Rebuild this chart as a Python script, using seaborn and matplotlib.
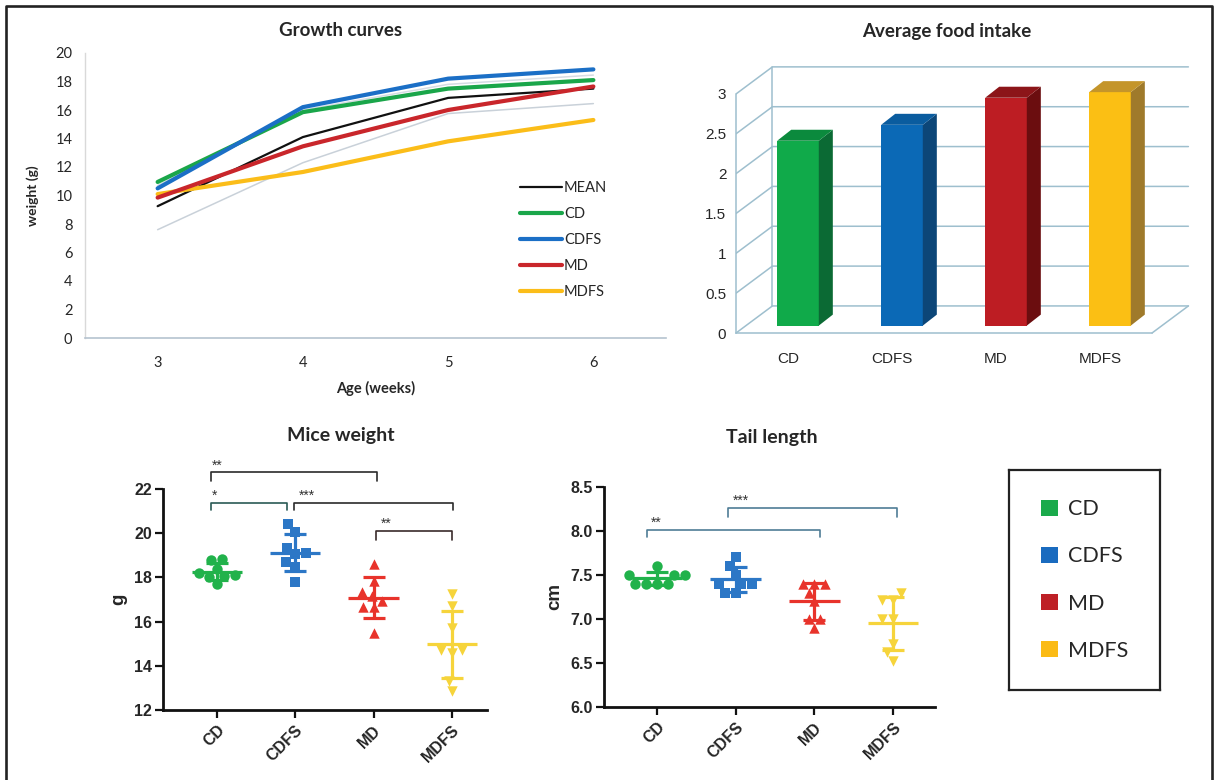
import numpy as np
import pandas as pd
import matplotlib
matplotlib.use("Agg")
import matplotlib.pyplot as plt
from matplotlib.patches import Polygon, Patch
from matplotlib.lines import Line2D
import seaborn as sns

# ---------------- data ----------------
weeks = [3, 4, 5, 6]
growth_mean = [9.25, 14.1, 16.85, 17.5]
growth_cd = [10.95, 15.85, 17.5, 18.1]
growth_cdfs = [10.5, 16.2, 18.2, 18.85]
growth_md = [9.85, 13.45, 16.0, 17.65]
growth_mdfs = [10.1, 11.65, 13.8, 15.3]
growth_low = [7.6, 12.3, 15.75, 16.45]
growth_high = [10.7, 16.0, 17.8, 18.45]

groups = ["CD", "CDFS", "MD", "MDFS"]
food_intake = [2.32, 2.52, 2.86, 2.93]

weight_cd = [18.85, 18.8, 18.4, 18.2, 18.1, 18.05, 18.0, 17.7]
weight_cdfs = [20.4, 20.05, 19.35, 19.1, 19.05, 18.7, 18.45, 17.8]
weight_md = [18.6, 17.85, 17.35, 17.15, 16.95, 16.65, 16.65, 15.5]
weight_mdfs = [17.25, 16.7, 15.7, 14.7, 14.7, 14.6, 13.3, 12.85]

tail_cd = [7.6, 7.5, 7.5, 7.5, 7.4, 7.4, 7.4, 7.4]
tail_cdfs = [7.7, 7.6, 7.5, 7.4, 7.4, 7.4, 7.3, 7.3]
tail_md = [7.4, 7.4, 7.4, 7.3, 7.2, 7.0, 7.0, 6.9]
tail_mdfs = [7.3, 7.22, 7.22, 7.0, 7.0, 6.72, 6.62, 6.52]

# ---------------- style ----------------
sns.set_theme(style="white")
plt.rcParams["font.family"] = ["Liberation Sans", "DejaVu Sans"]
EXCEL_FONT = ["Lato", "DejaVu Sans"]

W, H = 1218, 780
fig = plt.figure(figsize=(W / 100, H / 100), dpi=100)


def rect(left, top, right, bottom):
    return [left / W, 1 - bottom / H, (right - left) / W, (bottom - top) / H]


# outer frame
fig.add_artist(Line2D([6 / W, 6 / W, 1212 / W, 1212 / W], [-0.05, 1 - 6 / H, 1 - 6 / H, -0.05],
                      transform=fig.transFigure, color="#222222", lw=1.9))

line_colors = {"MEAN": "#111111", "CD": "#1aa64a", "CDFS": "#1b6fc6",
               "MD": "#c9262b", "MDFS": "#fbbd19"}
bar_front = ["#10aa4a", "#0b69b6", "#bd1d23", "#fbbf14"]
bar_side = ["#0b6a34", "#0c4678", "#6b0d0f", "#9f7a2b"]
bar_top = ["#0b8a3d", "#0a5c9f", "#8c1519", "#c4952a"]
prism_colors = ["#21b24b", "#2c77c6", "#e8332b", "#f6d43b"]
prism_markers = ["o", "s", "^", "v"]
legend_colors = ["#1aaa4b", "#1a6bbf", "#be2026", "#fbbb15"]

# ---------------- growth curves ----------------
ax_g = fig.add_axes(rect(85, 53, 666, 338))
series = [("low", growth_low, "#c9d1d9", 1.1),
          ("high", growth_high, "#d5dce3", 1.1),
          ("MEAN", growth_mean, line_colors["MEAN"], 1.6),
          ("MDFS", growth_mdfs, line_colors["MDFS"], 3.0),
          ("MD", growth_md, line_colors["MD"], 3.0),
          ("CD", growth_cd, line_colors["CD"], 3.0),
          ("CDFS", growth_cdfs, line_colors["CDFS"], 3.0)]
for name, vals, col, lw in series:
    df = pd.DataFrame({"week": weeks, "weight": vals})
    sns.lineplot(data=df, x="week", y="weight", color=col, linewidth=lw, ax=ax_g)
ax_g.set_xlim(2.5, 6.5)
ax_g.set_ylim(0, 20)
ax_g.set_xticks(weeks)
ax_g.set_xticklabels([str(w) for w in weeks], family=EXCEL_FONT, fontsize=10.5)
ax_g.set_yticks(range(0, 21, 2))
ax_g.set_yticklabels([str(v) for v in range(0, 21, 2)], family=EXCEL_FONT, fontsize=10.5)
ax_g.tick_params(axis="x", length=0, pad=13)
ax_g.tick_params(axis="y", length=0, pad=9)
for s in ["top", "right"]:
    ax_g.spines[s].set_visible(False)
ax_g.spines["left"].set_color("#d9d9d9")
ax_g.spines["bottom"].set_color("#b5c3cf")
ax_g.spines["left"].set_linewidth(1)
ax_g.spines["bottom"].set_linewidth(1.2)
ax_g.set_xlabel("Age (weeks)", family=EXCEL_FONT, fontweight="bold", fontsize=10.5, labelpad=8)
ax_g.set_ylabel("weight (g)", family=EXCEL_FONT, fontweight="bold", fontsize=10, labelpad=12)
ax_g.set_facecolor("none")
handles = [Line2D([], [], color=line_colors[k], lw=(1.6 if k == "MEAN" else 3.0))
           for k in ["MEAN", "CD", "CDFS", "MD", "MDFS"]]
ax_g.legend(handles, ["MEAN", "CD", "CDFS", "MD", "MDFS"], loc="upper left",
            bbox_to_anchor=(507 / W, 1 - 168 / H), bbox_transform=fig.transFigure,
            frameon=False, handlelength=2.9, handletextpad=0.1, labelspacing=0.82,
            prop={"family": EXCEL_FONT, "size": 10.5})
fig.text(341 / W, 1 - 31 / H, "Growth curves", ha="center", va="center",
         family=EXCEL_FONT, fontweight="bold", fontsize=13.5)

# ---------------- average food intake (3-D look) ----------------
ax_f = fig.add_axes(rect(736, 62.1, 1193.6, 341))
ax_f.set_facecolor("none")
grid_c = "#9ebfce"
DX, DY = 0.35, 0.34          # back-wall depth offset
BSX, BSY = 0.096, 0.093      # bar front-face depth offset
BDX, BDY = 0.135, 0.138      # bar depth
food_df = pd.DataFrame({"group": groups, "intake": food_intake})
sns.barplot(data=food_df, x="group", y="intake", hue="group", palette=bar_front,
            order=groups, width=0.4, saturation=1, legend=False, ax=ax_f, zorder=3)
for i, p in enumerate(ax_f.patches):
    p.set_x(p.get_x() + BSX)
    p.set_y(BSY)
    p.set_linewidth(0)
    x0, x1 = p.get_x(), p.get_x() + p.get_width()
    y0, y1 = BSY, BSY + p.get_height()
    ax_f.add_patch(Polygon([(x1, y0), (x1 + BDX, y0 + BDY), (x1 + BDX, y1 + BDY), (x1, y1)],
                           closed=True, fc=bar_side[i], ec="none", zorder=3))
    ax_f.add_patch(Polygon([(x0, y1), (x1, y1), (x1 + BDX, y1 + BDY), (x0 + BDX, y1 + BDY)],
                           closed=True, fc=bar_top[i], ec="none", zorder=3))
ticks_f = [0, 0.5, 1, 1.5, 2, 2.5, 3]
for v in ticks_f:
    ax_f.plot([-0.5, -0.5 + DX, 3.5 + DX], [v, v + DY, v + DY], color=grid_c, lw=1.1, zorder=1)
ax_f.plot([-0.5 + DX, -0.5 + DX], [DY, 3 + DY], color=grid_c, lw=1.1, zorder=1)
ax_f.plot([3.5, 3.5 + DX], [0, DY], color=grid_c, lw=1.1, zorder=1)
ax_f.set_xlim(-0.5, 3.9)
ax_f.set_ylim(-0.1, 3.4)
ax_f.set_yticks(ticks_f)
ax_f.set_yticklabels(["0", "0.5", "1", "1.5", "2", "2.5", "3"], family=EXCEL_FONT, fontsize=10.5)
ax_f.set_xticks(range(4))
ax_f.set_xticklabels(groups, family=EXCEL_FONT, fontsize=10.5)
ax_f.set_xticks(np.arange(-0.5, 4.0, 1.0), minor=True)
ax_f.tick_params(axis="x", which="major", length=0, pad=14)
ax_f.tick_params(axis="x", which="minor", length=5, width=1.1, color=grid_c, direction="out")
ax_f.tick_params(axis="y", length=0, pad=7)
for s in ["top", "right"]:
    ax_f.spines[s].set_visible(False)
ax_f.spines["bottom"].set_position(("data", 0))
ax_f.spines["bottom"].set_bounds(-0.5, 3.5)
ax_f.spines["left"].set_position(("data", -0.5))
ax_f.spines["left"].set_bounds(0, 3)
for s in ["bottom", "left"]:
    ax_f.spines[s].set_color(grid_c)
    ax_f.spines[s].set_linewidth(1.1)
ax_f.set_xlabel("")
ax_f.set_ylabel("")
fig.text(947 / W, 1 - 31 / H, "Average food intake", ha="center", va="center",
         family=EXCEL_FONT, fontweight="bold", fontsize=13.5)


# ---------------- Prism-style scatter panels ----------------
def dot_panel(ax, data_lists, ylim, yticks, yfmt, ylabel, xlim, msize):
    for i, (vals, col, mk) in enumerate(zip(data_lists, prism_colors, prism_markers)):
        sub = pd.DataFrame({"group": groups[i], "value": vals})
        sns.swarmplot(data=sub, x="group", y="value", order=groups, color=col, marker=mk,
                      size=msize, linewidth=0, ax=ax, zorder=3)
        m, s = np.mean(vals), np.std(vals, ddof=1)
        ax.hlines(m, i - 0.32, i + 0.32, color=col, lw=2.3, zorder=4)
        ax.errorbar(i, m, yerr=s, color=col, capsize=8, elinewidth=2.3, capthick=2.3,
                    fmt="none", zorder=4)
    ax.set_xlim(*xlim)
    ax.set_ylim(*ylim)
    ax.set_yticks(yticks)
    ax.set_yticklabels([yfmt.format(v) for v in yticks], fontweight="bold", fontsize=11.5)
    ax.set_xticks(range(4))
    ax.set_xticklabels(groups, fontweight="bold", fontsize=11.5, rotation=45,
                       ha="right", rotation_mode="anchor")
    ax.tick_params(axis="both", length=6, width=1.6, color="#111111", direction="out",
                   left=True, bottom=True)
    ax.tick_params(axis="x", pad=3)
    ax.tick_params(axis="y", pad=2)
    for s in ["top", "right"]:
        ax.spines[s].set_visible(False)
    for s in ["left", "bottom"]:
        ax.spines[s].set_color("#111111")
        ax.spines[s].set_linewidth(2.0)
    ax.set_xlabel("")
    ax.set_ylabel(ylabel, fontweight="bold", fontsize=13.5, labelpad=5)
    ax.set_facecolor("none")


def bracket(ax, x0, x1, y, drop, text, tx, color):
    ax.plot([x0, x0, x1, x1], [y - drop, y, y, y - drop], color=color, lw=1.2,
            clip_on=False, zorder=5)
    ax.text(x0 + tx, y, text, ha="left", va="bottom", fontsize=10, color="#333333",
            clip_on=False)


ax_w = fig.add_axes(rect(163, 489, 487, 710))
dot_panel(ax_w, [weight_cd, weight_cdfs, weight_md, weight_mdfs], (12, 22),
          [12, 14, 16, 18, 20, 22], "{:d}", "g", (-0.69, 3.45), 7.5)
bracket(ax_w, -0.08, 2.04, 22.75, 0.4, "**", 0.02, "#2b2b2b")
bracket(ax_w, -0.08, 0.89, 21.38, 0.33, "*", 0.02, "#2a5a55")
bracket(ax_w, 0.98, 3.01, 21.38, 0.33, "***", 0.06, "#2b2b2b")
bracket(ax_w, 2.03, 3.0, 20.1, 0.4, "**", 0.06, "#3a2b2b")
fig.text(341 / W, 1 - 435 / H, "Mice weight", ha="center", va="center",
         family=EXCEL_FONT, fontweight="bold", fontsize=14)

ax_t = fig.add_axes(rect(604, 487, 935, 707))
dot_panel(ax_t, [tail_cd, tail_cdfs, tail_md, tail_mdfs], (6, 8.5),
          [6.0, 6.5, 7.0, 7.5, 8.0, 8.5], "{:.1f}", "cm", (-0.67, 3.53), 7.5)
bracket(ax_t, -0.13, 2.07, 8.01, 0.08, "**", 0.05, "#4f7d96")
bracket(ax_t, 0.90, 3.05, 8.26, 0.1, "***", 0.07, "#4f7d96")
fig.text(772 / W, 1 - 437 / H, "Tail length", ha="center", va="center",
         family=EXCEL_FONT, fontweight="bold", fontsize=14)

# ---------------- shared group legend ----------------
ax_l = fig.add_axes(rect(1009, 470, 1160, 690))
ax_l.set_xticks([])
ax_l.set_yticks([])
for s in ax_l.spines.values():
    s.set_color("#222222")
    s.set_linewidth(1.6)
ax_l.set_facecolor("white")
ax_l.legend([Patch(fc=c, ec="none") for c in legend_colors], groups, loc="center",
            frameon=False, handlelength=0.8, handleheight=0.8, handletextpad=0.45,
            labelspacing=1.26, prop={"family": EXCEL_FONT, "size": 15.5})

fig.savefig("out.png", dpi=100, facecolor="white")
